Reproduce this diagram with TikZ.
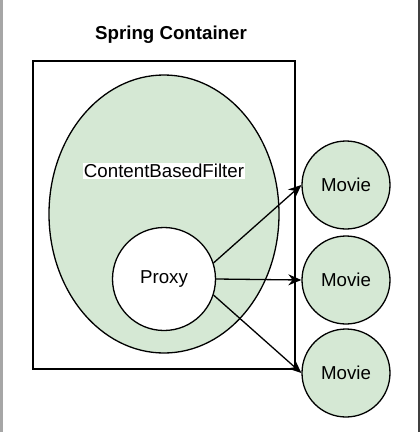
\documentclass[tikz,border=0pt]{standalone}
\usepackage{fontspec}
\setmainfont{Liberation Sans}
\usetikzlibrary{arrows.meta,shapes.geometric}
\definecolor{drawgreen}{HTML}{D5E8D4}
\tikzset{
  txt/.style={font=\fontsize{18.7}{22}\selectfont},
  line/.style={line width=1.3pt, draw=black},
  movie/.style={circle, line, fill=drawgreen, minimum size=88pt, inner sep=0pt, txt},
  arr/.style={line width=1.3pt, -{Stealth[length=13pt,width=11pt]}}
}
\begin{document}
\begin{tikzpicture}[x=1pt,y=-1pt]
\useasboundingbox (0,0) rectangle (420,432);
\fill[white] (0,0) rectangle (420,432);
% screenshot edges
\fill[gray!70] (0,0) rectangle (3,432);
\draw[black!75, line width=1.2pt] (419,0) -- (419,432);
% title
\node[txt, font=\fontsize{18.7}{22}\selectfont\bfseries] (title) at (171,35) {Spring Container};
% container
\node[line, rectangle, minimum width=262pt, minimum height=308pt, inner sep=0pt] (container) at (164,215) {};
% filter ellipse
\node[ellipse, line, fill=drawgreen, minimum width=230pt, minimum height=278pt, inner sep=0pt] (filter) at (164,214) {};
\node[txt, fill=white, inner sep=1pt] (filterlabel) at (164,171) {ContentBasedFilter};
% proxy
\node[circle, line, fill=white, minimum size=103pt, inner sep=0pt, txt] (proxy) at (164,279) {Proxy};
% movies
\node[movie] (m1) at (346,185) {Movie};
\node[movie] (m2) at (346,280) {Movie};
\node[movie] (m3) at (346,373) {Movie};
% arrows
\draw[arr] (proxy.18) -- (m1.west);
\draw[arr] (proxy.east) -- (m2.west);
\draw[arr] (proxy.-18) -- (m3.west);
\end{tikzpicture}
\end{document}
